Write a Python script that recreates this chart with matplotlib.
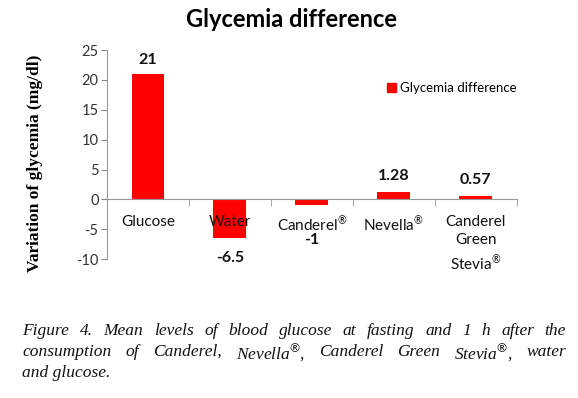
import matplotlib
matplotlib.use("Agg")
import matplotlib.pyplot as plt
from matplotlib.patches import Patch

categories = ["Glucose", "Water", "Canderel$^{\\circledR}$", "Nevella$^{\\circledR}$",
              "Canderel\nGreen\nStevia$^{\\circledR}$"]
values = [21, -6.5, -1, 1.28, 0.57]
value_labels = ["21", "-6.5", "-1", "1.28", "0.57"]
yticks = [-10, -5, 0, 5, 10, 15, 20, 25]
series_name = "Glycemia difference"
caption_lines = [
    "Figure 4. Mean levels of blood glucose at fasting and 1 h after the",
    "consumption of Canderel, Nevella$^{\\circledR}$, Canderel Green Stevia$^{\\circledR}$, water",
    "and glucose.",
]

RED = "#ff0000"
SANS = "Lato"
plt.rcParams["font.family"] = [SANS, "DejaVu Sans"]
plt.rcParams["axes.unicode_minus"] = False
plt.rcParams["mathtext.fontset"] = "custom"
plt.rcParams["mathtext.rm"] = SANS
plt.rcParams["mathtext.it"] = SANS

fig = plt.figure(figsize=(5.78, 3.98), dpi=100)
ax = fig.add_axes([0.185, 0.349, 0.709, 0.525])

x = list(range(len(values)))
ax.bar(x, values, width=0.4, color=RED, zorder=1)
ax.set_xlim(-0.5, len(values) - 0.5)
ax.set_ylim(-10, 25)
ax.set_yticks(yticks)
ax.tick_params(axis="y", colors="#888888", labelcolor="#333333", labelsize=10.5, length=4, pad=2)

for s in ["top", "right"]:
    ax.spines[s].set_visible(False)
for s in ["left", "bottom"]:
    ax.spines[s].set_color("#999999")
ax.spines["bottom"].set_position(("data", 0))

ax.set_xticks(x)
ax.set_xticklabels(categories, fontsize=11, va="top", linespacing=1.4)
ax.set_xticks([i + 0.5 for i in x], minor=True)
ax.tick_params(axis="x", which="major", length=0, pad=11, labelcolor="#111111")
ax.tick_params(axis="x", which="minor", length=5, color="#999999")
for lab in ax.get_xticklabels():
    lab.set_zorder(3)

# value labels: above positive bars, below negative ones (Excel-style offsets)
offsets = [10, -14, -25, 11, 11.5]
for xi, v, lab, off in zip(x, values, value_labels, offsets):
    ax.annotate(lab, (xi, v), xytext=(0, off), textcoords="offset points",
                ha="center", va="center", fontsize=11.5, fontweight="bold", color="#111111")

ax.set_ylabel("Variation of glycemia (mg/dl)", family="Liberation Serif",
              fontweight="bold", fontsize=12.5, labelpad=10)
ax.yaxis.set_label_coords(-0.155, 0.46)

ax.legend([Patch(color=RED)], [series_name], loc="upper left", bbox_to_anchor=(0.655, 0.905),
          frameon=False, fontsize=9.5, handlelength=0.7, handleheight=0.7, handletextpad=0.3)

fig.text(0.505, 0.95, series_name, ha="center", va="center", fontsize=17, fontweight="bold")

# justified caption
fig.canvas.draw()
renderer = fig.canvas.get_renderer()
cap_left, cap_right = 22 / 578, 566 / 578
cap_y = [1 - 331 / 398, 1 - 352 / 398, 1 - 373 / 398]
cap_kw = dict(family="Liberation Serif", style="italic", fontsize=12.5, va="center", color="#111111")
for i, line in enumerate(caption_lines):
    words = line.split(" ")
    if i == len(caption_lines) - 1:
        fig.text(cap_left, cap_y[i], line, ha="left", **cap_kw)
        continue
    texts = [fig.text(0, cap_y[i], w, ha="left", **cap_kw) for w in words]
    widths = [t.get_window_extent(renderer).width / fig.bbox.width for t in texts]
    gap = (cap_right - cap_left - sum(widths)) / (len(words) - 1)
    pos = cap_left
    for t, w in zip(texts, widths):
        t.set_x(pos)
        pos += w + gap

fig.savefig("out.png", dpi=100)
